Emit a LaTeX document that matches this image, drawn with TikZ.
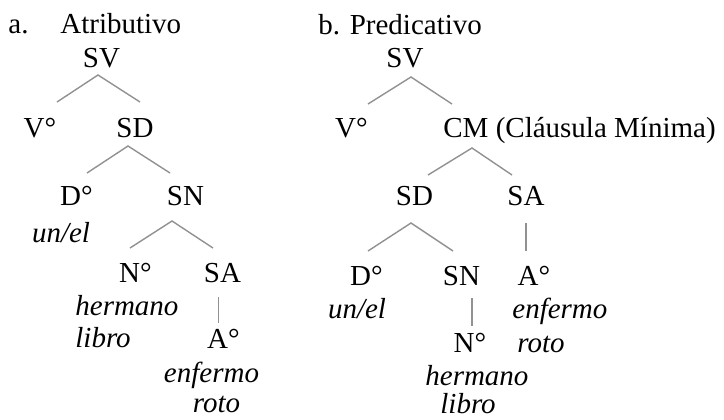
\documentclass[tikz,border=0pt]{standalone}
\usepackage{fontspec}
\setmainfont{Liberation Serif}
\usetikzlibrary{calc}
\definecolor{BranchGray}{RGB}{145,145,145}
\newcommand{\treefont}{\fontsize{14.5}{17}\selectfont}
\tikzset{
  cat/.style={anchor=base, inner sep=0pt, font=\treefont},
  lex/.style={anchor=base, inner sep=0pt, font=\treefont\itshape},
  title/.style={anchor=base west, inner sep=0pt, font=\treefont},
  branch/.style={draw=BranchGray, line width=0.7pt},
}

\begin{document}
\begin{tikzpicture}[x=0.5pt, y=-0.5pt]
  \useasboundingbox (0,0) rectangle (724,419);

  % a. atributivo
  \node[title] (labela) at (8,33) {a.};
  \node[title] (titlea) at (60,33) {Atributivo};
  \node[cat] (SVa) at (101.5,67) {SV};
  \node[cat] (Va) at (40,137) {V°};
  \node[cat] (SDa) at (135,137) {SD};
  \node[cat] (Da) at (76.5,205) {D°};
  \node[cat] (SNa) at (185.5,205) {SN};
  \node[lex] (unela) at (61,242) {un/el};
  \node[cat] (Na) at (135.5,282) {N°};
  \node[cat] (SAa) at (222.5,282) {SA};
  \node[lex, anchor=base west] (hermanoa) at (75,315) {hermano};
  \node[lex, anchor=base west] (libroa) at (75,347) {libro};
  \node[cat] (Aa) at (223.5,348) {A°};
  \node[lex] (enfermoa) at (211.5,382) {enfermo};
  \node[lex] (rotoa) at (216.5,412) {roto};

  \draw[branch] ($(Va.base)+(17,-35)$) -- ($(SVa.base)+(-3.5,8)$)
                -- ($(SDa.base)+(5,-35)$);
  \draw[branch] ($(Da.base)+(10.5,-32)$) -- ($(SDa.base)+(-7,9)$)
                -- ($(SNa.base)+(-15.5,-32)$);
  \draw[branch] ($(Na.base)+(-5.5,-34)$) -- ($(SNa.base)+(-13.5,16)$)
                -- ($(SAa.base)+(-9.5,-34)$);
  \draw[branch] ($(SAa.base)+(-4,15)$) -- ($(Aa.base)+(-5,-25)$);

  % b. predicativo
  \node[title] (labelb) at (318,34) {b. Predicativo};
  \node[cat] (SVb) at (405,67) {SV};
  \node[cat] (Vb) at (351.5,137) {V°};
  \node[cat, anchor=base west] (CMb) at (443,137) {CM (Cláusula Mínima)};
  \node[cat] (SDb) at (414.5,205) {SD};
  \node[cat] (SAb) at (526,205) {SA};
  \node[cat] (Db) at (366.5,285) {D°};
  \node[cat] (SNb) at (461.5,285) {SN};
  \node[cat] (Ab) at (534,285) {A°};
  \node[lex] (unelb) at (357,318) {un/el};
  \node[lex, anchor=base west] (enfermob) at (512,318) {enfermo};
  \node[cat] (Nb) at (470,352) {N°};
  \node[lex, anchor=base west] (rotob) at (517,352) {roto};
  \node[lex, anchor=base west] (hermanob) at (425,385) {hermano};
  \node[lex, anchor=base west] (librob) at (440,413) {libro};

  \draw[branch] ($(Vb.base)+(16.5,-33)$) -- ($(SVb.base)+(6,10)$)
                -- ($(CMb.base west)+(9,-33)$);
  \draw[branch] ($(SDb.base)+(13.5,-30)$) -- ($(CMb.base west)+(29,11)$)
                -- ($(SAb.base)+(-14,-30)$);
  \draw[branch] ($(Db.base)+(1.5,-34)$) -- ($(SDb.base)+(-3.5,18)$)
                -- ($(SNb.base)+(-8.5,-34)$);
  \draw[branch] ($(SAb.base)+(0,18)$) -- ($(Ab.base)+(-8,-34)$);
  \draw[branch] ($(SNb.base)+(10.5,13)$) -- ($(Nb.base)+(2,-26)$);
\end{tikzpicture}
\end{document}
